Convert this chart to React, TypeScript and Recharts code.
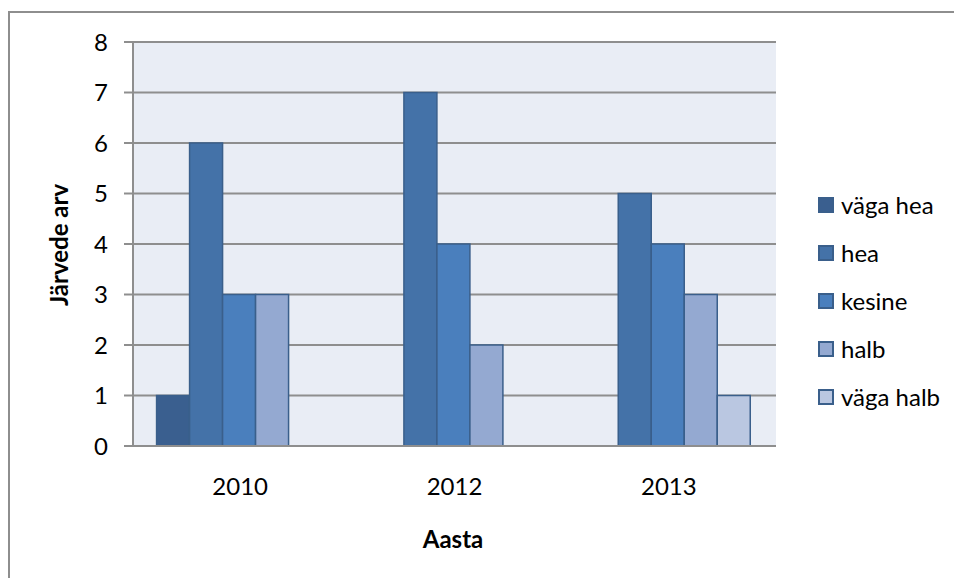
import { BarChart, Bar, XAxis, YAxis, CartesianGrid } from 'recharts'

const YEARS = ['2010', '2012', '2013']
const VAGA_HEA = [1, 0, 0]
const HEA = [6, 7, 5]
const KESINE = [3, 4, 4]
const HALB = [3, 2, 3]
const VAGA_HALB = [0, 0, 1]
const Y_TICKS = [0, 1, 2, 3, 4, 5, 6, 7, 8]

const SERIES = [
  { key: 'vagaHea', name: 'väga hea', color: '#3A5F8F', values: VAGA_HEA },
  { key: 'hea', name: 'hea', color: '#4472A8', values: HEA },
  { key: 'kesine', name: 'kesine', color: '#4A7FBD', values: KESINE },
  { key: 'halb', name: 'halb', color: '#94A9D1', values: HALB },
  { key: 'vagaHalb', name: 'väga halb', color: '#BAC7E1', values: VAGA_HALB },
]

const data = YEARS.map((year, i) => {
  const row: Record<string, string | number> = { year }
  SERIES.forEach(s => { row[s.key] = s.values[i] })
  return row
})

const FONT = 'Lato, "Open Sans", sans-serif'
const GRID = '#8E8E8E'
const EDGE = '#3A5F8B'

export default function App() {
  return (
    <div style={{ position: 'absolute', left: 0, top: 0, width: 954, height: 578, background: '#fff', fontFamily: FONT, overflow: 'hidden' }}>
      {/* outer chart frame */}
      <div style={{ position: 'absolute', left: 8, top: 11, width: 960, height: 600, borderTop: `2px solid ${GRID}`, borderLeft: `2px solid ${GRID}` }} />

      <BarChart
        width={954}
        height={578}
        data={data}
        margin={{ top: 42, right: 178, bottom: 92, left: 73 }}
        barCategoryGap="11%"
        barGap={0}
        style={{ position: 'absolute', left: 0, top: 0 }}
      >
        <CartesianGrid vertical={false} stroke={GRID} strokeWidth={2} fill="#E9EDF5" />
        <XAxis
          dataKey="year"
          height={40}
          tickLine={false}
          tickMargin={26}
          axisLine={{ stroke: GRID, strokeWidth: 2 }}
          tick={{ fontSize: 24, fill: '#000', fontFamily: FONT }}
        />
        <YAxis
          width={60}
          domain={[0, 8]}
          ticks={Y_TICKS}
          interval={0}
          tickSize={9}
          tickMargin={16}
          axisLine={{ stroke: GRID, strokeWidth: 2 }}
          tickLine={{ stroke: GRID, strokeWidth: 2 }}
          tick={{ fontSize: 24, fill: '#000', fontFamily: FONT }}
        />
        {SERIES.map(s => (
          <Bar
            key={s.key}
            dataKey={s.key}
            name={s.name}
            fill={s.color}
            stroke={EDGE}
            strokeWidth={1.5}
            isAnimationActive={false}
          />
        ))}
      </BarChart>

      {/* axis titles */}
      <div style={{ position: 'absolute', left: 59, top: 245, transform: 'translate(-50%, -50%) rotate(-90deg)', fontSize: 24, fontWeight: 700, whiteSpace: 'nowrap', lineHeight: 1 }}>
        Järvede arv
      </div>
      <div style={{ position: 'absolute', left: 453, top: 539, transform: 'translate(-50%, -50%)', fontSize: 24, fontWeight: 700, whiteSpace: 'nowrap', lineHeight: 1 }}>
        Aasta
      </div>

      {/* legend */}
      {SERIES.map((s, i) => (
        <div key={s.key} style={{ position: 'absolute', left: 818, top: 205 + i * 48, transform: 'translateY(-50%)', display: 'flex', alignItems: 'center', fontSize: 24, lineHeight: 1, whiteSpace: 'nowrap' }}>
          <span style={{ display: 'inline-block', width: 12, height: 12, background: s.color, border: `2px solid ${EDGE}`, marginRight: 7 }} />
          {s.name}
        </div>
      ))}
    </div>
  )
}
